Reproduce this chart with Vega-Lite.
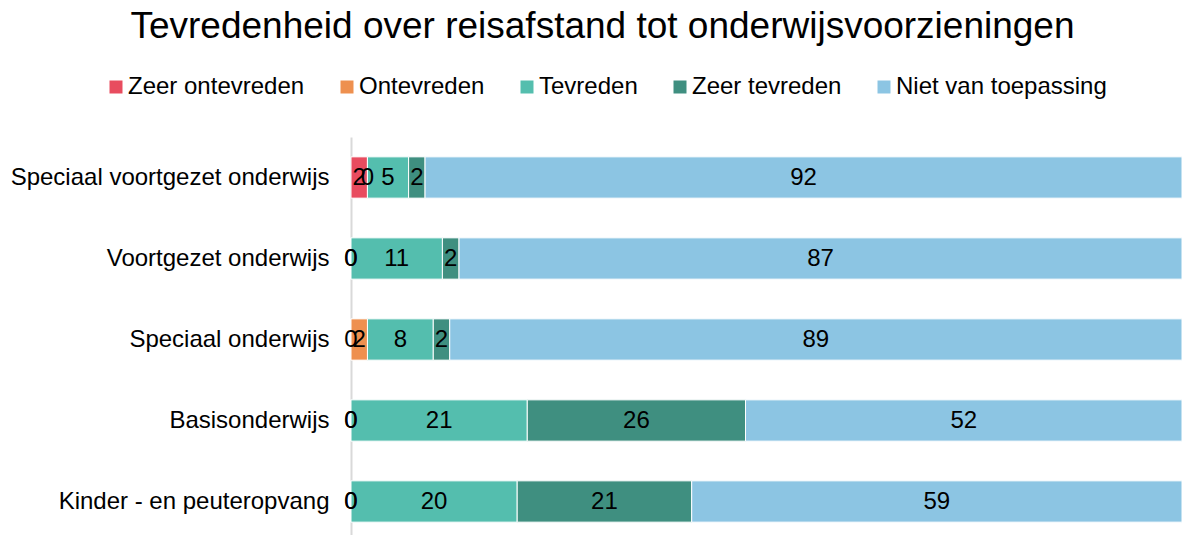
{
  "$schema": "https://vega.github.io/schema/vega-lite/v6.json",
  "width": 831,
  "height": 405,
  "autosize": {"type": "none"},
  "padding": {"left": 351, "top": 137, "right": 0, "bottom": 0},
  "background": "white",
  "config": {
    "font": "Liberation Sans",
    "view": {"stroke": null}
  },
  "title": {
    "text": "Tevredenheid over reisafstand tot onderwijsvoorzieningen",
    "fontSize": 37,
    "fontWeight": "normal",
    "color": "#000000",
    "anchor": "middle",
    "frame": "group",
    "dx": -164,
    "baseline": "alphabetic",
    "offset": 0
  },
  "data": {
    "values": [
      {"categorie": "Speciaal voortgezet onderwijs", "antwoord": "Zeer ontevreden", "volgorde": 1, "waarde": 2},
      {"categorie": "Speciaal voortgezet onderwijs", "antwoord": "Ontevreden", "volgorde": 2, "waarde": 0},
      {"categorie": "Speciaal voortgezet onderwijs", "antwoord": "Tevreden", "volgorde": 3, "waarde": 5},
      {"categorie": "Speciaal voortgezet onderwijs", "antwoord": "Zeer tevreden", "volgorde": 4, "waarde": 2},
      {"categorie": "Speciaal voortgezet onderwijs", "antwoord": "Niet van toepassing", "volgorde": 5, "waarde": 92},
      {"categorie": "Voortgezet onderwijs", "antwoord": "Zeer ontevreden", "volgorde": 1, "waarde": 0},
      {"categorie": "Voortgezet onderwijs", "antwoord": "Ontevreden", "volgorde": 2, "waarde": 0},
      {"categorie": "Voortgezet onderwijs", "antwoord": "Tevreden", "volgorde": 3, "waarde": 11},
      {"categorie": "Voortgezet onderwijs", "antwoord": "Zeer tevreden", "volgorde": 4, "waarde": 2},
      {"categorie": "Voortgezet onderwijs", "antwoord": "Niet van toepassing", "volgorde": 5, "waarde": 87},
      {"categorie": "Speciaal onderwijs", "antwoord": "Zeer ontevreden", "volgorde": 1, "waarde": 0},
      {"categorie": "Speciaal onderwijs", "antwoord": "Ontevreden", "volgorde": 2, "waarde": 2},
      {"categorie": "Speciaal onderwijs", "antwoord": "Tevreden", "volgorde": 3, "waarde": 8},
      {"categorie": "Speciaal onderwijs", "antwoord": "Zeer tevreden", "volgorde": 4, "waarde": 2},
      {"categorie": "Speciaal onderwijs", "antwoord": "Niet van toepassing", "volgorde": 5, "waarde": 89},
      {"categorie": "Basisonderwijs", "antwoord": "Zeer ontevreden", "volgorde": 1, "waarde": 0},
      {"categorie": "Basisonderwijs", "antwoord": "Ontevreden", "volgorde": 2, "waarde": 0},
      {"categorie": "Basisonderwijs", "antwoord": "Tevreden", "volgorde": 3, "waarde": 21},
      {"categorie": "Basisonderwijs", "antwoord": "Zeer tevreden", "volgorde": 4, "waarde": 26},
      {"categorie": "Basisonderwijs", "antwoord": "Niet van toepassing", "volgorde": 5, "waarde": 52},
      {"categorie": "Kinder - en peuteropvang", "antwoord": "Zeer ontevreden", "volgorde": 1, "waarde": 0},
      {"categorie": "Kinder - en peuteropvang", "antwoord": "Ontevreden", "volgorde": 2, "waarde": 0},
      {"categorie": "Kinder - en peuteropvang", "antwoord": "Tevreden", "volgorde": 3, "waarde": 20},
      {"categorie": "Kinder - en peuteropvang", "antwoord": "Zeer tevreden", "volgorde": 4, "waarde": 21},
      {"categorie": "Kinder - en peuteropvang", "antwoord": "Niet van toepassing", "volgorde": 5, "waarde": 59}
    ]
  },
  "encoding": {
    "y": {
      "field": "categorie",
      "type": "nominal",
      "sort": ["Speciaal voortgezet onderwijs", "Voortgezet onderwijs", "Speciaal onderwijs", "Basisonderwijs", "Kinder - en peuteropvang"],
      "scale": {"paddingInner": 0.49, "paddingOuter": 0.245},
      "axis": {
        "title": null,
        "ticks": false,
        "domainColor": "#d9d9d9",
        "domainWidth": 2,
        "labelFontSize": 24,
        "labelColor": "#000000",
        "labelPadding": 22,
        "labelLimit": 400
      }
    },
    "x": {
      "field": "waarde",
      "type": "quantitative",
      "stack": "normalize",
      "scale": {"domain": [0, 1], "nice": false},
      "axis": null
    },
    "order": {"field": "volgorde", "type": "quantitative"}
  },
  "layer": [
    {
      "mark": {"type": "bar", "stroke": "#ffffff", "strokeWidth": 1},
      "encoding": {
        "color": {
          "field": "antwoord",
          "type": "nominal",
          "scale": {
            "domain": ["Zeer ontevreden", "Ontevreden", "Tevreden", "Zeer tevreden", "Niet van toepassing"],
            "range": ["#E84C5F", "#EE904F", "#54BEAE", "#3F8F80", "#8CC5E3"]
          },
          "legend": {
            "title": null,
            "orient": "none",
            "direction": "horizontal",
            "legendX": -247,
            "legendY": -62,
            "symbolType": "square",
            "symbolSize": 169,
            "symbolStrokeWidth": 0,
            "labelFontSize": 24,
            "labelColor": "#000000",
            "labelOffset": 0,
            "columnPadding": 30,
            "labelLimit": 400
          }
        }
      }
    },
    {
      "mark": {"type": "text", "fontSize": 24, "color": "#000000"},
      "encoding": {
        "x": {
          "field": "waarde",
          "type": "quantitative",
          "stack": "normalize",
          "bandPosition": 0.5
        },
        "detail": {"field": "antwoord", "type": "nominal"},
        "text": {"field": "waarde", "type": "quantitative"}
      }
    }
  ]
}
